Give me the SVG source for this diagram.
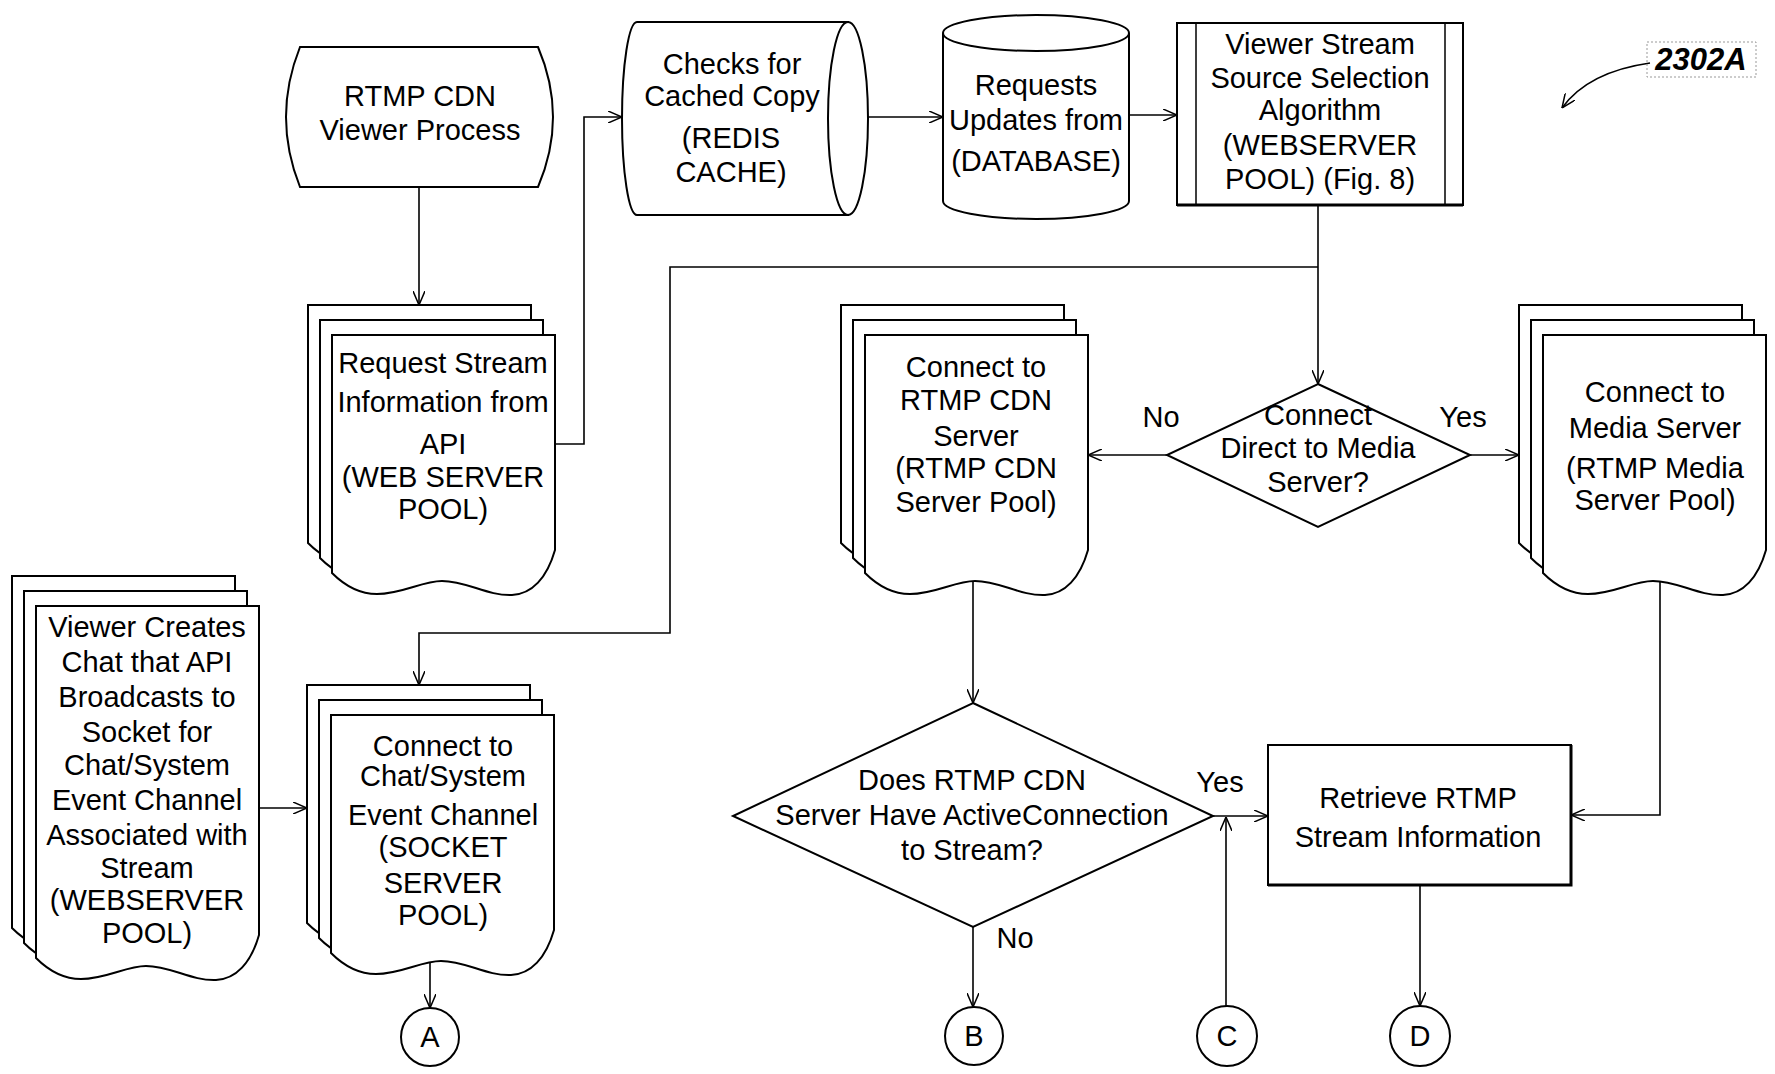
<svg xmlns="http://www.w3.org/2000/svg" xmlns:xlink="http://www.w3.org/1999/xlink" width="1775" height="1074" viewBox="0 0 1775 1074">
<style>
.s{fill:#fff;stroke:#000;stroke-width:2}
.c{fill:none;stroke:#000;stroke-width:1.6}
.t{font-family:"Liberation Sans",Arial,sans-serif;font-size:29px;fill:#000;text-anchor:middle}
.lbl{font-family:"Liberation Sans",Arial,sans-serif;font-size:29px;fill:#000;text-anchor:middle}
</style>
<defs>
<marker id="arr" viewBox="0 0 14 12" refX="14" refY="6" markerWidth="14" markerHeight="12" markerUnits="userSpaceOnUse" orient="auto"><path d="M0,0 L14,6 L0,12" fill="none" stroke="#000" stroke-width="1.5"/></marker>
<path id="doc238" d="M0,0 H223 V215 C215,243 200,259 180,260 C155,261 135,246 110,246 C90,246 70,259 45,259 C30,259 15,253 0,238 Z"/>
<path id="doc352" d="M0,0 H223 V329 C215,357 200,373 180,374 C155,375 135,360 110,360 C90,360 70,373 45,373 C30,373 15,367 0,352 Z"/>
</defs>
<rect width="1775" height="1074" fill="#fff"/>

<g id="connectors" class="c">
<path d="M419,187 V305" marker-end="url(#arr)"/>
<path d="M555,444 H584 V117 H622" marker-end="url(#arr)"/>
<path d="M868,117 H943" marker-end="url(#arr)"/>
<path d="M1129,115 H1177" marker-end="url(#arr)"/>
<path d="M1318,205 V384" marker-end="url(#arr)"/>
<path d="M1318,267 H670 V633 H419 V685" marker-end="url(#arr)"/>
<path d="M1167,455 H1088" marker-end="url(#arr)"/>
<path d="M1470,455 H1519" marker-end="url(#arr)"/>
<path d="M973,581 V703" marker-end="url(#arr)"/>
<path d="M1660,582 V815 H1571" marker-end="url(#arr)"/>
<path d="M259,808 H307" marker-end="url(#arr)"/>
<path d="M430,961 V1008" marker-end="url(#arr)"/>
<path d="M973,927 V1007" marker-end="url(#arr)"/>
<path d="M1213,816 H1268" marker-end="url(#arr)"/>
<path d="M1226,1006 V817" marker-end="url(#arr)"/>
<path d="M1420,885 V1006" marker-end="url(#arr)"/>
<path d="M1650,63 C1615,68 1582,80 1562,108" marker-end="url(#arr)"/>
</g>

<g id="n-viewer-process">
<path class="s" d="M300,47 H538 Q568,117 538,187 H300 Q272,117 300,47 Z"/>
<text class="t" x="420" y="106">RTMP CDN</text>
<text class="t" x="420" y="140">Viewer Process</text>
</g>

<g id="n-request-stream">
<use href="#doc238" x="308" y="305" class="s"/>
<use href="#doc238" x="320" y="320" class="s"/>
<use href="#doc238" x="332" y="335" class="s"/>
<text class="t" x="443" y="373">Request Stream</text>
<text class="t" x="443" y="412">Information from</text>
<text class="t" x="443" y="454">API</text>
<text class="t" x="443" y="487">(WEB SERVER</text>
<text class="t" x="443" y="519">POOL)</text>
</g>

<g id="n-redis">
<path class="s" d="M637,22 H848 V215 H637 A15,96.5 0 0 1 637,22 Z"/>
<ellipse class="s" cx="848" cy="118.5" rx="20" ry="96.5"/>
<text class="t" x="732" y="74">Checks for</text>
<text class="t" x="732" y="106">Cached Copy</text>
<text class="t" x="731" y="148">(REDIS</text>
<text class="t" x="731" y="182">CACHE)</text>
</g>

<g id="n-database">
<path class="s" d="M943,33 V201 A93,18 0 0 0 1129,201 V33"/>
<ellipse class="s" cx="1036" cy="33" rx="93" ry="18"/>
<text class="t" x="1036" y="95">Requests</text>
<text class="t" x="1036" y="130">Updates from</text>
<text class="t" x="1036" y="171">(DATABASE)</text>
</g>

<g id="n-algorithm">
<rect class="s" x="1177" y="23" width="286" height="182"/>
<path d="M1196,23 V205 M1445,23 V205" stroke="#000" stroke-width="1.5" fill="none"/>
<path d="M1177,205 H1463" stroke="#000" stroke-width="3"/>
<text class="t" x="1320" y="54">Viewer Stream</text>
<text class="t" x="1320" y="88">Source Selection</text>
<text class="t" x="1320" y="120">Algorithm</text>
<text class="t" x="1320" y="155">(WEBSERVER</text>
<text class="t" x="1320" y="189">POOL) (Fig. 8)</text>
</g>

<g id="n-ref-2302a">
<rect x="1647" y="42" width="109" height="35" fill="none" stroke="#999" stroke-width="1" stroke-dasharray="2,2"/>
<text x="1701" y="70" font-family="Liberation Sans, Arial, sans-serif" font-size="31" font-weight="bold" font-style="italic" text-anchor="middle">2302A</text>
</g>

<g id="n-decision-direct">
<path class="s" d="M1318,384 L1470,455 L1318,527 L1167,455 Z"/>
<text class="t" x="1318" y="425">Connect</text>
<text class="t" x="1318" y="458">Direct to Media</text>
<text class="t" x="1318" y="492">Server?</text>
<text class="lbl" x="1161" y="427">No</text>
<text class="lbl" x="1463" y="427">Yes</text>
</g>

<g id="n-cdn-server">
<use href="#doc238" x="841" y="305" class="s"/>
<use href="#doc238" x="853" y="320" class="s"/>
<use href="#doc238" x="865" y="335" class="s"/>
<text class="t" x="976" y="377">Connect to</text>
<text class="t" x="976" y="410">RTMP CDN</text>
<text class="t" x="976" y="446">Server</text>
<text class="t" x="976" y="478">(RTMP CDN</text>
<text class="t" x="976" y="512">Server Pool)</text>
</g>

<g id="n-media-server">
<use href="#doc238" x="1519" y="305" class="s"/>
<use href="#doc238" x="1531" y="320" class="s"/>
<use href="#doc238" x="1543" y="335" class="s"/>
<text class="t" x="1655" y="402">Connect to</text>
<text class="t" x="1655" y="438">Media Server</text>
<text class="t" x="1655" y="478">(RTMP Media</text>
<text class="t" x="1655" y="510">Server Pool)</text>
</g>

<g id="n-viewer-creates">
<use href="#doc352" x="12" y="576" class="s"/>
<use href="#doc352" x="24" y="591" class="s"/>
<use href="#doc352" x="36" y="606" class="s"/>
<text class="t" x="147" y="637">Viewer Creates</text>
<text class="t" x="147" y="672">Chat that API</text>
<text class="t" x="147" y="707">Broadcasts to</text>
<text class="t" x="147" y="742">Socket for</text>
<text class="t" x="147" y="775">Chat/System</text>
<text class="t" x="147" y="810">Event Channel</text>
<text class="t" x="147" y="845">Associated with</text>
<text class="t" x="147" y="878">Stream</text>
<text class="t" x="147" y="910">(WEBSERVER</text>
<text class="t" x="147" y="943">POOL)</text>
</g>

<g id="n-chat-channel">
<use href="#doc238" x="307" y="685" class="s"/>
<use href="#doc238" x="319" y="700" class="s"/>
<use href="#doc238" x="331" y="715" class="s"/>
<text class="t" x="443" y="756">Connect to</text>
<text class="t" x="443" y="786">Chat/System</text>
<text class="t" x="443" y="825">Event Channel</text>
<text class="t" x="443" y="857">(SOCKET</text>
<text class="t" x="443" y="893">SERVER</text>
<text class="t" x="443" y="925">POOL)</text>
</g>

<g id="n-decision-active">
<path class="s" d="M973,703 L1213,816 L973,927 L733,816 Z"/>
<text class="t" x="972" y="790">Does RTMP CDN</text>
<text class="t" x="972" y="825">Server Have ActiveConnection</text>
<text class="t" x="972" y="860">to Stream?</text>
<text class="lbl" x="1220" y="792">Yes</text>
<text class="lbl" x="1015" y="948">No</text>
</g>

<g id="n-retrieve">
<rect class="s" x="1268" y="745" width="303" height="140"/>
<path d="M1268,885 H1571 V745" fill="none" stroke="#000" stroke-width="3"/>
<text class="t" x="1418" y="808">Retrieve RTMP</text>
<text class="t" x="1418" y="847">Stream Information</text>
</g>

<g id="n-off-a"><circle class="s" cx="430" cy="1037" r="29"/><text class="t" x="430" y="1047">A</text></g>
<g id="n-off-b"><circle class="s" cx="974" cy="1036" r="29"/><text class="t" x="974" y="1046">B</text></g>
<g id="n-off-c"><circle class="s" cx="1227" cy="1036" r="30"/><text class="t" x="1227" y="1046">C</text></g>
<g id="n-off-d"><circle class="s" cx="1420" cy="1036" r="30"/><text class="t" x="1420" y="1046">D</text></g>
</svg>
